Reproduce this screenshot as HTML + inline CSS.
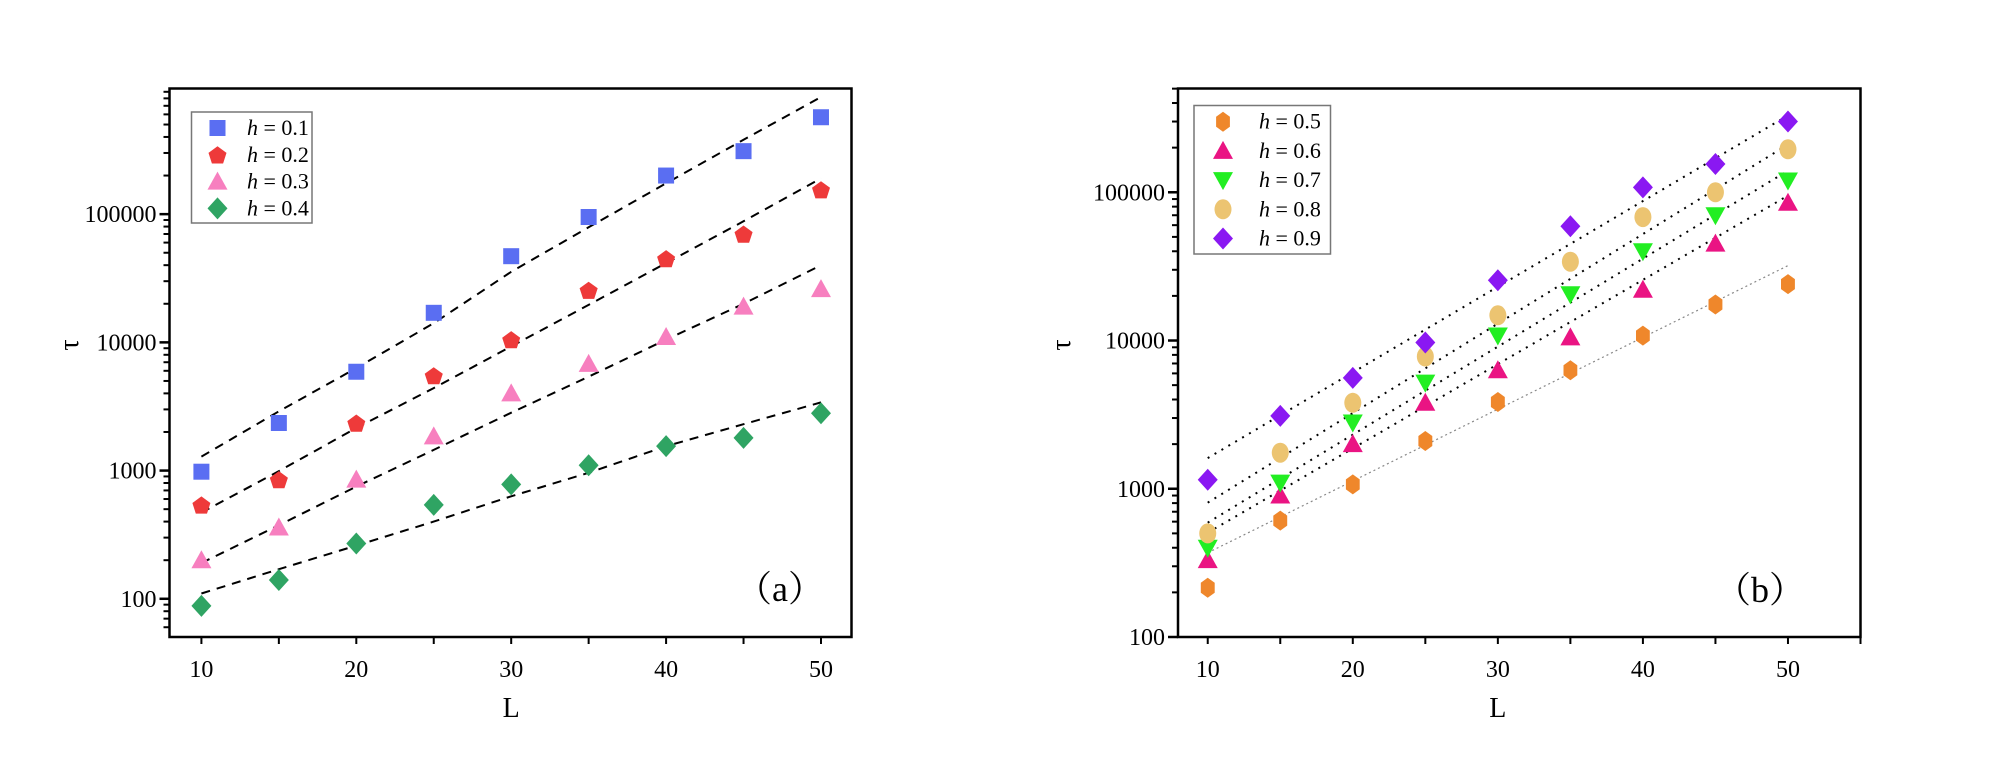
<!DOCTYPE html>
<html><head><meta charset="utf-8"><style>
html,body{margin:0;padding:0;background:#fff;}
svg{display:block;font-family:"Liberation Serif",serif;}
</style></head><body>
<svg id="c" width="2000" height="765" viewBox="0 0 2000 765"></svg>
<script>
const xTicksA = [10,20,30,40,50];
const Lvals = [10,15,20,25,30,35,40,45,50];
// panel a data
const aH1 = [980,2350,5900,17000,47000,95000,200000,310000,570000];
const aH2 = [540,850,2350,5500,10500,25500,45000,70000,155000];
const aH3 = [200,360,850,1850,4000,6800,11000,19000,26000];
const aH4 = [88,140,270,540,780,1100,1550,1800,2800];
const aFit1 = [1285,2900,6300,14100,35500,79000,174000,380000,820000];
const aFit2 = [470,990,2150,4400,9300,19600,41500,88000,190000];
const aFit3 = [190,375,750,1450,2830,5400,10500,20000,40000];
const aFit4 = [110,170,260,400,630,960,1550,2300,3400];
const aYTicks = [100,1000,10000,100000];
const aYLabels = ["100","1000","10000","100000"];
const aLegend = ["0.1","0.2","0.3","0.4"];
// panel b data
const bH5 = [215,610,1070,2100,3850,6300,10800,17500,24000];
const bH6 = [330,900,2000,3800,6300,10500,22000,45000,85000];
const bH7 = [400,1100,2800,5200,10800,20500,40000,70000,120000];
const bH8 = [500,1750,3800,7800,14800,34000,68000,100000,195000];
const bH9 = [1150,3100,5600,9700,25500,59000,108000,155000,300000];
const bFitL = [10,50];
const bFit5 = [370,32000];
const bFit6 = [505,95000];
const bFit7 = [590,140000];
const bFit8 = [805,210000];
const bFit9 = [1610,330000];
const bYTicks = [100,1000,10000,100000];
const bYLabels = ["100","1000","10000","100000"];
const bLegend = ["0.5","0.6","0.7","0.8","0.9"];

const NS="http://www.w3.org/2000/svg";
const svg=document.getElementById('c');
function el(tag,attrs,parent){const e=document.createElementNS(NS,tag);for(const k in attrs)e.setAttribute(k,attrs[k]);(parent||svg).appendChild(e);return e;}

function marker(g,shape,color,cx,cy){
  let e;const s=8;
  if(shape==='square'){e=el('rect',{x:cx-s,y:cy-s,width:2*s,height:2*s,fill:color},g);}
  else if(shape==='pentagon'){let p=[];for(let i=0;i<5;i++){const a=-Math.PI/2+i*2*Math.PI/5;p.push((cx+9.5*Math.cos(a)).toFixed(1)+','+(cy+1+9.5*Math.sin(a)).toFixed(1));}e=el('polygon',{points:p.join(' '),fill:color},g);}
  else if(shape==='tri'){e=el('polygon',{points:`${cx-10},${cy+8} ${cx+10},${cy+8} ${cx},${cy-10}`,fill:color},g);}
  else if(shape==='tridown'){e=el('polygon',{points:`${cx-10},${cy-8} ${cx+10},${cy-8} ${cx},${cy+10}`,fill:color},g);}
  else if(shape==='diamond'){e=el('polygon',{points:`${cx},${cy-11} ${cx+10},${cy} ${cx},${cy+11} ${cx-10},${cy}`,fill:color},g);}
  else if(shape==='hex'){let p=[];for(let i=0;i<6;i++){const a=-Math.PI/2+i*Math.PI/3;p.push((cx+8*Math.cos(a)).toFixed(1)+','+(cy+10*Math.sin(a)).toFixed(1));}e=el('polygon',{points:p.join(' '),fill:color},g);}
  else {e=el('ellipse',{cx:cx,cy:cy,rx:8.5,ry:10,fill:color},g);}
  return e;
}

function panel(cfg){
  const g=el('g',{});
  
  
  const {x0,x1,y0,y1,xmin,xmax,lmin,lmax}=cfg;
  const X=v=>x0+(v-xmin)/(xmax-xmin)*(x1-x0);
  const Y=v=>y1-(Math.log10(v)-lmin)/(lmax-lmin)*(y1-y0);
  // fits
  cfg.fits.forEach((f,i)=>{
    const pts=f.vals.map((v,j)=>X(f.L[j]).toFixed(1)+','+Y(v).toFixed(1)).join(' ');
    const pl=el('polyline',{points:pts,fill:'none',stroke:f.color||'#000','stroke-width':f.w||2,'stroke-dasharray':f.dash},g);
    
    
  });
  // series
  cfg.series.forEach(s=>{
    s.vals.forEach((v,j)=>{
      const m=marker(g,s.shape,s.color,X(Lvals[j]),Y(v));
      
      
    });
  });
  // frame
  const fr=el('rect',{x:x0,y:y0,width:x1-x0,height:y1-y0,fill:'none',stroke:'#000','stroke-width':2.5},g);
  
  
  // y ticks
  const lo=Math.floor(lmin),hi=Math.ceil(lmax);
  for(let d=lo;d<=hi;d++){
    for(let k=1;k<10;k++){
      const v=k*Math.pow(10,d);const lv=Math.log10(v);
      if(lv<lmin-1e-9||lv>lmax+1e-9)continue;
      const y=Y(v);
      el('line',{x1:x0,x2:x0-(k===1?10:6),y1:y,y2:y,stroke:'#000','stroke-width':k===1?2.5:2},g);
    }
  }
  cfg.yTicks.forEach((v,i)=>{
    const t=el('text',{x:x0-13,y:Y(v)+8,'text-anchor':'end','font-size':24},g);
    t.textContent=cfg.yLabels[i];
    
    
  });
  // x ticks
  for(let v=10;v<=xmax;v+=5){
    el('line',{x1:X(v),x2:X(v),y1:y1,y2:y1+7,stroke:'#000','stroke-width':2},g);
  }
  xTicksA.forEach(v=>{
    const t=el('text',{x:X(v),y:y1+40,'text-anchor':'middle','font-size':24},g);
    t.textContent=String(v);
    
    
  });
  const xl=el('text',{x:X(30),y:y1+80,'text-anchor':'middle','font-size':28},g);
  xl.textContent='L';
  
  
  const yl=el('text',{x:0,y:0,'text-anchor':'middle','font-size':28,transform:`translate(${cfg.tauX},${cfg.tauY}) rotate(-90)`},g);
  yl.textContent='τ';
  
  
  const pl=el('text',{x:cfg.lab[0],y:cfg.lab[1],'font-size':36,'font-family':'"Liberation Serif","Noto Serif CJK SC",serif'},g);
  pl.textContent=cfg.labText;
  
  
  // legend
  const lg=el('g',{},g);
  
  
  const L=cfg.legend;
  el('rect',{x:L.x,y:L.y,width:L.w,height:L.h,fill:'#fff',stroke:'#777','stroke-width':1.5},lg);
  cfg.series.forEach((s,i)=>{
    const cy=L.ey0+i*L.dy;
    const m=marker(lg,s.shape,s.color,L.mx,cy);
    const t=el('text',{x:L.tx,y:cy+7,'font-size':22},lg);
    t.innerHTML='<tspan font-style="italic">h</tspan> = '+cfg.legendLabels[i];
    
    
  });
}

const dashA='9 7';
panel({name:'panel-a',x0:169.5,x1:851.5,y0:88.5,y1:637,xmin:7.94,xmax:51.97,lmin:Math.log10(50)+0.003,lmax:5.98,
  yTicks:aYTicks,yLabels:aYLabels,legendLabels:aLegend,tauX:78,tauY:345,lab:[736,601],labText:'（a）',
  fits:[{id:'0.1',L:Lvals,vals:aFit1,dash:dashA},{id:'0.2',L:Lvals,vals:aFit2,dash:dashA},{id:'0.3',L:Lvals,vals:aFit3,dash:dashA},{id:'0.4',L:Lvals,vals:aFit4,dash:dashA}],
  series:[{id:'0.1',vals:aH1,shape:'square',color:'#5a6ef2'},{id:'0.2',vals:aH2,shape:'pentagon',color:'#ee3a3a'},{id:'0.3',vals:aH3,shape:'tri',color:'#f77fbf'},{id:'0.4',vals:aH4,shape:'diamond',color:'#2fa463'}],
  legend:{x:191.5,y:112,w:120.5,h:111,ey0:128,dy:26.8,mx:217.5,tx:247}
});
panel({name:'panel-b',x0:1178,x1:1860.5,y0:88.5,y1:637,xmin:7.95,xmax:55,lmin:2,lmax:5.70,
  yTicks:bYTicks,yLabels:bYLabels,legendLabels:bLegend,tauX:1070,tauY:345,lab:[1715,602],labText:'（b）',
  fits:[{id:'0.5',L:bFitL,vals:bFit5,dash:'2 3',color:'#888',w:1.2},{id:'0.6',L:bFitL,vals:bFit6,dash:'2 6'},{id:'0.7',L:bFitL,vals:bFit7,dash:'2 6'},{id:'0.8',L:bFitL,vals:bFit8,dash:'2 6'},{id:'0.9',L:bFitL,vals:bFit9,dash:'2 6'}],
  series:[{id:'0.5',vals:bH5,shape:'hex',color:'#ef872b'},{id:'0.6',vals:bH6,shape:'tri',color:'#ea1483'},{id:'0.7',vals:bH7,shape:'tridown',color:'#22ee22'},{id:'0.8',vals:bH8,shape:'circle',color:'#ecc471'},{id:'0.9',vals:bH9,shape:'diamond',color:'#8a18f2'}],
  legend:{x:1194,y:105.5,w:136.5,h:148.5,ey0:121.7,dy:29.2,mx:1223,tx:1259}
});
</script>
</body></html>
